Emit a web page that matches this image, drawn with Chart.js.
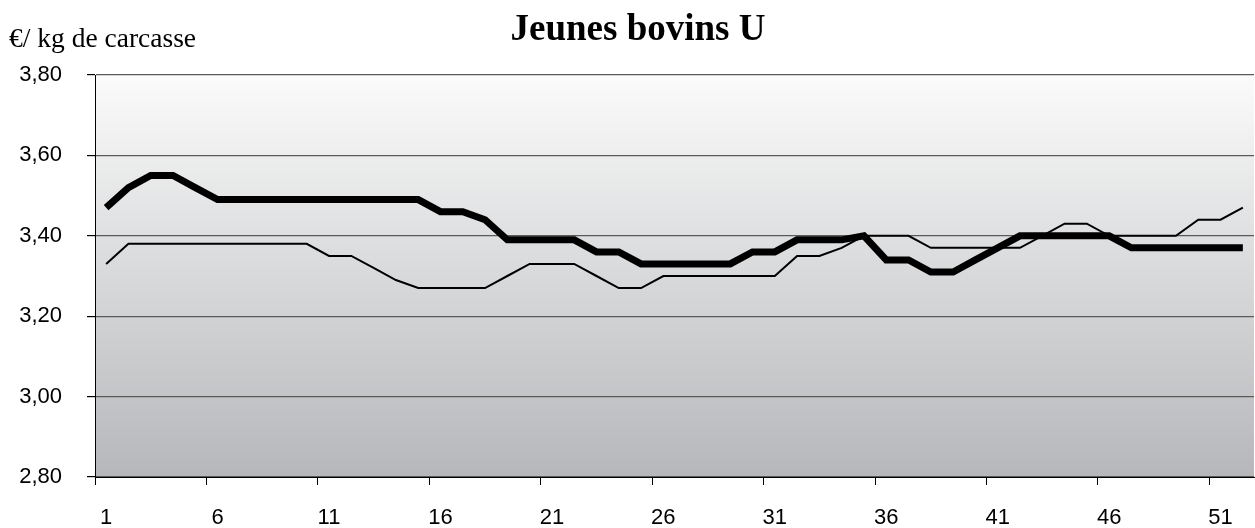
<!DOCTYPE html>
<html>
<head>
<meta charset="utf-8">
<script src="https://cdn.jsdelivr.net/npm/chart.js@4/dist/chart.umd.min.js"></script>
<style>
  html, body { margin: 0; padding: 0; background: #ffffff; }
  #wrap { position: relative; width: 1255px; height: 528px; }
</style>
</head>
<body>
<div id="wrap"><canvas id="c"></canvas></div>
<script>
// ---- data ----
const weeks = [];
for (let i = 1; i <= 52; i++) weeks.push(String(i));

const seriesThick = [
  3.47, 3.52, 3.55, 3.55, 3.52, 3.49, 3.49, 3.49, 3.49, 3.49,
  3.49, 3.49, 3.49, 3.49, 3.49, 3.46, 3.46, 3.44, 3.39, 3.39,
  3.39, 3.39, 3.36, 3.36, 3.33, 3.33, 3.33, 3.33, 3.33, 3.36,
  3.36, 3.39, 3.39, 3.39, 3.40, 3.34, 3.34, 3.31, 3.31, 3.34,
  3.37, 3.40, 3.40, 3.40, 3.40, 3.40, 3.37, 3.37, 3.37, 3.37,
  3.37, 3.37
];

const seriesThin = [
  3.33, 3.38, 3.38, 3.38, 3.38, 3.38, 3.38, 3.38, 3.38, 3.38,
  3.35, 3.35, 3.32, 3.29, 3.27, 3.27, 3.27, 3.27, 3.30, 3.33,
  3.33, 3.33, 3.30, 3.27, 3.27, 3.30, 3.30, 3.30, 3.30, 3.30,
  3.30, 3.35, 3.35, 3.37, 3.40, 3.40, 3.40, 3.37, 3.37, 3.37,
  3.37, 3.37, 3.40, 3.43, 3.43, 3.40, 3.40, 3.40, 3.40, 3.44,
  3.44, 3.47
];

const yMin = 2.8, yMax = 3.8, yStep = 0.2;
const labelEvery = 5;
const titleText = 'Jeunes bovins U';
const unitText = '€/ kg de carcasse';

// ---- plugins ----
const plotBackground = {
  id: 'plotBackground',
  beforeDraw(chart) {
    const { ctx, chartArea: a } = chart;
    const g = ctx.createLinearGradient(0, a.top, 0, a.bottom);
    g.addColorStop(0, '#fbfbfb');
    g.addColorStop(1, '#b5b7ba');
    ctx.save();
    ctx.fillStyle = g;
    ctx.fillRect(a.left, a.top, a.right - a.left, a.bottom - a.top);
    ctx.restore();
  }
};

const headerTexts = {
  id: 'headerTexts',
  afterDraw(chart) {
    const { ctx } = chart;
    ctx.save();
    ctx.fillStyle = '#000';
    ctx.textBaseline = 'alphabetic';
    ctx.textAlign = 'center';
    ctx.font = 'bold 37px "Liberation Serif", "Times New Roman", serif';
    ctx.fillText(titleText, 638, 40);
    ctx.textAlign = 'left';
    ctx.font = '27.5px "Liberation Serif", "Times New Roman", serif';
    ctx.fillText(unitText, 9, 47);
    ctx.restore();
  }
};

new Chart(document.getElementById('c'), {
  type: 'line',
  data: {
    labels: weeks,
    datasets: [
      {
        label: 'Série 1',
        data: seriesThin,
        borderColor: '#000000',
        borderWidth: 2,
        pointRadius: 0,
        tension: 0,
        fill: false
      },
      {
        label: 'Série 2',
        data: seriesThick,
        borderColor: '#000000',
        borderWidth: 7,
        pointRadius: 0,
        tension: 0,
        fill: false,
        borderJoinStyle: 'miter'
      }
    ]
  },
  options: {
    responsive: true,
    maintainAspectRatio: false,
    animation: false,
    layout: { padding: { top: 75, right: 1, left: 0, bottom: 0 } },
    plugins: {
      legend: { display: false },
      title: { display: false },
      tooltip: { enabled: false }
    },
    scales: {
      x: {
        type: 'category',
        offset: true,
        grid: {
          offset: true,
          drawOnChartArea: false,
          drawTicks: true,
          tickLength: 8,
          color: '#000000',
          tickColor: (ctx) => (ctx.index % labelEvery === 0 ? '#000000' : 'rgba(0,0,0,0)'),
          lineWidth: 1
        },
        border: { display: true, color: '#000000', width: 1 },
        ticks: {
          autoSkip: false,
          maxRotation: 0,
          minRotation: 0,
          padding: 20,
          color: '#000000',
          font: { family: '"Liberation Sans", Arial, sans-serif', size: 22 },
          callback: function (val, idx) {
            return idx % labelEvery === 0 ? this.getLabelForValue(val) : '';
          }
        },
        afterFit(scale) {
          scale.height = 51;
          scale.paddingLeft = 0;
          scale.paddingRight = 0;
        }
      },
      y: {
        min: yMin,
        max: yMax,
        grid: {
          color: '#5a5a5a',
          lineWidth: 1.2,
          drawTicks: true,
          tickLength: 8,
          tickColor: '#000000'
        },
        border: { display: true, color: '#000000', width: 1 },
        ticks: {
          stepSize: yStep,
          padding: 25,
          color: '#000000',
          font: { family: '"Liberation Sans", Arial, sans-serif', size: 22 },
          callback: (v) => Number(v).toFixed(2).replace('.', ',')
        },
        afterFit(scale) {
          scale.width = 95;
          scale.paddingTop = 0;
          scale.paddingBottom = 0;
        }
      }
    }
  },
  plugins: [plotBackground, headerTexts]
});
</script>
</body>
</html>
